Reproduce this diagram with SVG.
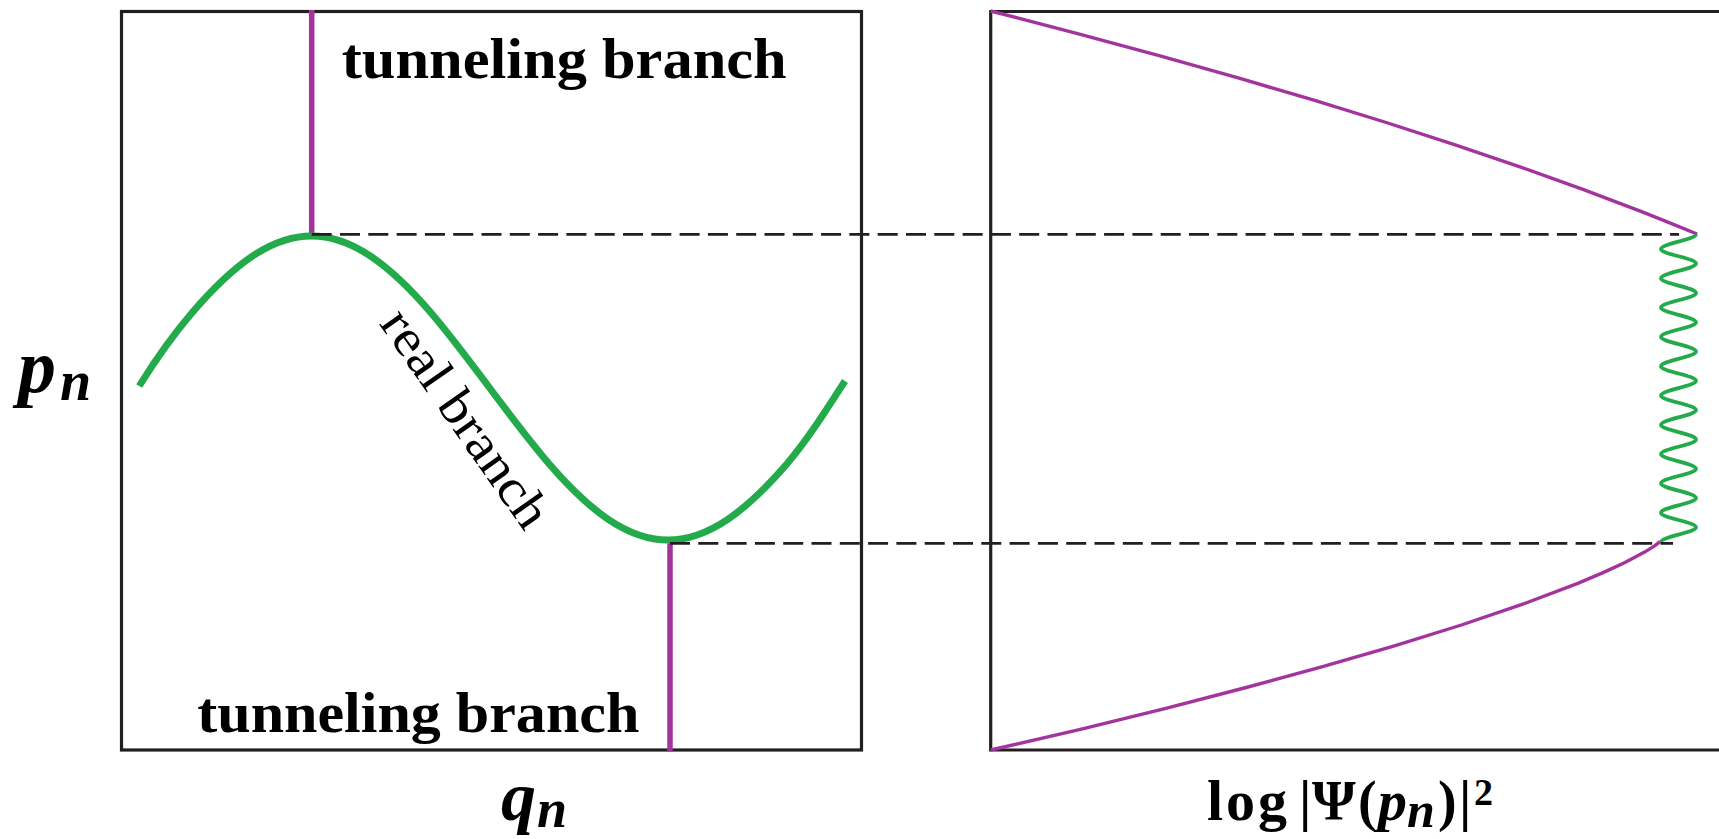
<svg xmlns="http://www.w3.org/2000/svg" width="1719" height="839" viewBox="0 0 1719 839">
<style>
.frame{fill:none;stroke:#231f20;stroke-width:3.2}
.dash{fill:none;stroke:#231f20;stroke-width:2.7;stroke-dasharray:20 8.3}
.tun{fill:none;stroke:#a3349e;stroke-width:5.5}
.pcurve{fill:none;stroke:#a3349e;stroke-width:3.4;stroke-linejoin:round}
.real{fill:none;stroke:#22aa4b;stroke-width:7}
.wave{fill:none;stroke:#22aa4b;stroke-width:3.8}
text{font-family:"Liberation Serif","Times New Roman",serif;fill:#000}
.bold{font-weight:bold}
.mi{font-weight:bold;font-style:italic}
</style>
<rect width="1719" height="839" fill="#fff"/>

<g id="left-panel">
<rect class="frame" x="121.5" y="11.5" width="740" height="738.5"/>
<line class="tun" x1="311.7" y1="10" x2="311.7" y2="234.3"/>
<line class="tun" x1="670" y1="543.3" x2="670" y2="751.5"/>
<path class="real" d="M139.2 386 C156 359 174.9 332.7 192.7 312 C212.5 289 232.3 269.7 252.1 256.4 C271.9 243.1 291.7 236 311.5 236 C331.3 236 351.1 243.1 370.9 256.4 C390.7 269.7 410.5 289 430.3 312 C450.1 335 469.9 361.5 489.7 388 C509.5 414.5 529.4 441 549.2 464 C569 487 588.8 506.3 608.6 519.6 C628.4 532.9 648.2 540 668 540 C687.8 540 707.6 532.9 727.4 519.6 C747.2 506.3 767 487 786.8 464 C806.6 441 825 412 845 381"/>
</g>

<g id="right-panel">
<path class="frame" d="M1722 11.5 H990.7 V750 H1722"/>
<polyline class="pcurve" points="990.7,11 1076.6,33.3 1159.1,55.6 1238.2,77.9 1313.9,100.2 1386.2,122.5 1455.2,144.8 1520.7,167.1 1582.9,189.4 1641.6,211.7 1669.7,222.85 1697,234"/>
<polyline class="pcurve" points="1660,541.7 1654.6,545.9 1644.6,552.1 1625,562.5 1602.5,572.9 1577.8,583.4 1522.8,604.2 1461.4,625 1394.4,645.9 1322.6,666.7 1246.2,687.5 1165.8,708.3 1081.4,729.2 990.7,750"/>
<path class="wave" d="M1696 234.3 c0 5.32 -35 9.33 -35 14.65 c0 5.32 35 9.33 35 14.65 c0 5.32 -35 9.33 -35 14.65 c0 5.32 35 9.33 35 14.65 c0 5.32 -35 9.33 -35 14.65 c0 5.32 35 9.33 35 14.65 c0 5.32 -35 9.33 -35 14.65 c0 5.32 35 9.33 35 14.65 c0 5.32 -35 9.33 -35 14.65 c0 5.32 35 9.33 35 14.65 c0 5.32 -35 9.33 -35 14.65 c0 5.32 35 9.33 35 14.65 c0 5.32 -35 9.33 -35 14.65 c0 5.32 35 9.33 35 14.65 c0 5.32 -35 9.33 -35 14.65 c0 5.32 35 9.33 35 14.65 c0 5.32 -35 9.33 -35 14.65 c0 5.32 35 9.33 35 14.65 c0 5.32 -35 9.33 -35 14.65 c0 5.32 35 9.33 35 14.65 c0 5.32 -35 9.33 -35 14.65"/>
</g>

<g id="connectors">
<line class="dash" x1="311.7" y1="234.3" x2="1679" y2="234.3"/>
<line class="dash" x1="670" y1="543.3" x2="1673" y2="543.3"/>
</g>

<g id="labels">
<text id="tunnel-top" class="bold" x="341.7" y="78.3" font-size="56" textLength="445" lengthAdjust="spacingAndGlyphs">tunneling branch</text>
<text id="tunnel-bottom" class="bold" x="197.3" y="731.7" font-size="56" textLength="442" lengthAdjust="spacingAndGlyphs">tunneling branch</text>
<text id="real-branch" transform="translate(378.5 323.5) rotate(55)" font-size="52" textLength="255" lengthAdjust="spacingAndGlyphs">real branch</text>
<text id="p-axis" class="mi" y="392" font-size="76"><tspan x="18">p</tspan><tspan x="60" dy="8" font-size="56">n</tspan></text>
<text id="q-axis" class="mi" y="820" font-size="70"><tspan x="501">q</tspan><tspan x="537" dy="7" font-size="54">n</tspan></text>
<text id="psi-axis" class="bold" y="820" font-size="56"><tspan x="1207" font-size="58" letter-spacing="3">log</tspan><tspan x="1299">|</tspan><tspan x="1312">Ψ</tspan><tspan x="1358">(</tspan><tspan x="1378" font-style="italic" font-size="58">p</tspan><tspan x="1407" dy="7" font-size="50" font-style="italic">n</tspan><tspan x="1438" dy="-7">)</tspan><tspan x="1459">|</tspan><tspan x="1474" dy="-15" font-size="38">2</tspan></text>
</g>
</svg>
